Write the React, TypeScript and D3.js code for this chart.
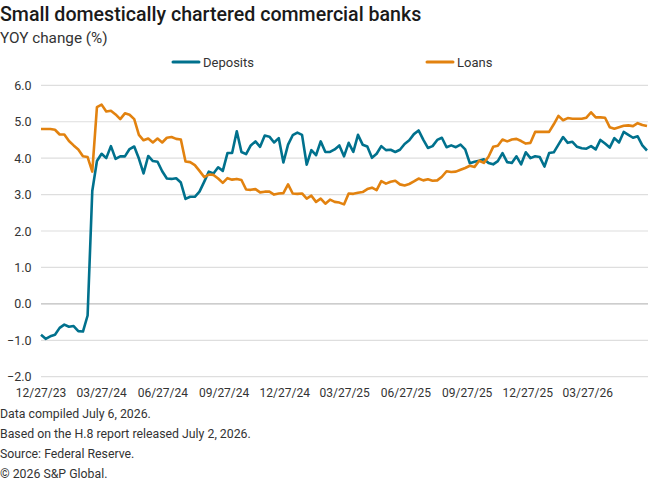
import { useEffect, useRef } from 'react';
import * as d3 from 'd3';

const TITLE = 'Small domestically chartered commercial banks';
const SUBTITLE = 'YOY change (%)';
const FOOTNOTES = [
  'Data compiled July 6, 2026.',
  'Based on the H.8 report released July 2, 2026.',
  'Source: Federal Reserve.',
  '© 2026 S&P Global.',
];

// weekly observations, first week ending 12/27/23
const FIRST_WEEK = '12/27/23';
const WEEK_COUNT = 131;

const X_TICKS = [
  '12/27/23', '03/27/24', '06/27/24', '09/27/24', '12/27/24',
  '03/27/25', '06/27/25', '09/27/25', '12/27/25', '03/27/26',
];
const Y_TICKS = [-2, -1, 0, 1, 2, 3, 4, 5, 6];

const DEPOSITS = [
  -0.85, -0.96, -0.89, -0.85, -0.66, -0.57, -0.63, -0.61, -0.75, -0.76,
  -0.32, 3.10, 3.92, 4.12, 4.00, 4.33, 3.98, 4.05, 4.05, 4.25,
  4.32, 3.99, 3.58, 4.06, 3.92, 3.90, 3.64, 3.44, 3.43, 3.45,
  3.33, 2.88, 2.94, 2.94, 3.08, 3.35, 3.63, 3.58, 3.75, 3.65,
  4.14, 4.14, 4.74, 4.17, 4.11, 4.35, 4.46, 4.31, 4.62, 4.59,
  4.43, 4.55, 3.88, 4.37, 4.63, 4.70, 4.64, 3.82, 4.22, 4.08,
  4.46, 4.17, 4.17, 4.24, 4.35, 4.05, 4.42, 4.17, 4.64, 4.37,
  4.32, 4.01, 4.12, 4.33, 4.22, 4.23, 4.17, 4.23, 4.39, 4.49,
  4.66, 4.76, 4.51, 4.28, 4.33, 4.50, 4.56, 4.30, 4.35, 4.30,
  4.37, 4.24, 3.86, 3.90, 3.93, 3.97, 3.87, 3.83, 3.92, 4.14,
  3.89, 3.87, 4.05, 3.83, 4.16, 4.00, 4.05, 4.03, 3.77, 4.14,
  4.16, 4.37, 4.58, 4.42, 4.45, 4.31, 4.27, 4.26, 4.33, 4.24,
  4.50, 4.40, 4.29, 4.55, 4.43, 4.72, 4.64, 4.56, 4.60, 4.35,
  4.21,
];

const LOANS = [
  4.80, 4.80, 4.80, 4.78, 4.65, 4.65, 4.47, 4.35, 4.24, 4.05,
  4.03, 3.63, 5.40, 5.47, 5.28, 5.30, 5.20, 5.07, 5.23, 5.19,
  5.07, 4.64, 4.49, 4.54, 4.43, 4.54, 4.43, 4.56, 4.58, 4.53,
  4.51, 3.91, 3.89, 3.81, 3.65, 3.48, 3.55, 3.54, 3.44, 3.32,
  3.45, 3.41, 3.43, 3.40, 3.14, 3.13, 3.15, 3.06, 3.08, 3.08,
  3.00, 3.03, 3.04, 3.28, 3.03, 3.02, 3.03, 2.89, 2.97, 2.80,
  2.89, 2.75, 2.86, 2.80, 2.78, 2.73, 3.03, 3.02, 3.05, 3.07,
  3.15, 3.19, 3.12, 3.37, 3.30, 3.35, 3.38, 3.28, 3.25, 3.29,
  3.36, 3.44, 3.39, 3.42, 3.38, 3.39, 3.49, 3.64, 3.62, 3.63,
  3.68, 3.73, 3.79, 3.76, 3.93, 3.87, 4.04, 4.31, 4.34, 4.51,
  4.46, 4.51, 4.53, 4.47, 4.40, 4.42, 4.72, 4.72, 4.72, 4.72,
  4.93, 5.16, 5.04, 5.10, 5.08, 5.08, 5.08, 5.11, 5.26, 5.12,
  5.12, 5.11, 4.85, 4.81, 4.85, 4.89, 4.90, 4.88, 4.96, 4.91,
  4.88,
];

const SERIES = [
  { name: 'Deposits', values: DEPOSITS, color: '#00718d' },
  { name: 'Loans', values: LOANS, color: '#e2820f' },
];

type Point = { date: Date; value: number };

const FONT = 'Roboto, "Liberation Sans", sans-serif';

export default function App() {
  const svgRef = useRef<SVGSVGElement | null>(null);

  useEffect(() => {
    if (!svgRef.current) return;
    const svg = d3.select(svgRef.current);
    svg.selectAll('*').remove();

    const W = 662;
    const H = 480;
    const plot = { left: 41, right: 647, top: 85.3, bottom: 376.7 };

    const parse = d3.timeParse('%m/%d/%y');
    const start = parse(FIRST_WEEK) as Date;
    const weeks = d3.range(WEEK_COUNT).map((i) => d3.timeDay.offset(start, i * 7));

    const x = d3.scaleTime().domain([weeks[0], weeks[weeks.length - 1]]).range([plot.left, plot.right]);
    const y = d3.scaleLinear().domain([-2, 6]).range([plot.bottom, plot.top]);

    svg.attr('width', W).attr('height', H).attr('viewBox', `0 0 ${W} ${H}`).style('font-family', FONT);

    svg.append('rect').attr('width', W).attr('height', H).attr('fill', '#fff');

    // Heading
    svg.append('text')
      .attr('x', 0).attr('y', 21)
      .attr('fill', '#1a1a1a')
      .style('font-size', '19.6px')
      .style('font-weight', 500)
      .text(TITLE);

    svg.append('text')
      .attr('x', 0).attr('y', 43)
      .attr('fill', '#333')
      .style('font-size', '15.3px')
      .text(SUBTITLE);

    // Legend
    const legendX = [173, 427];
    SERIES.forEach((s, i) => {
      const lg = svg.append('g').attr('transform', `translate(${legendX[i]},62)`);
      lg.append('line')
        .attr('x1', 0).attr('x2', 26).attr('y1', 0).attr('y2', 0)
        .attr('stroke', s.color).attr('stroke-width', 3).attr('stroke-linecap', 'round');
      lg.append('text')
        .attr('x', 30).attr('y', 4.5)
        .attr('fill', '#333')
        .style('font-size', '13px')
        .text(s.name);
    });

    // Grid lines
    svg.append('g')
      .selectAll('line')
      .data(Y_TICKS)
      .enter()
      .append('line')
      .attr('x1', plot.left).attr('x2', plot.right + 1)
      .attr('y1', (d) => y(d)).attr('y2', (d) => y(d))
      .attr('stroke', (d) => (d === 0 ? '#bdbdbd' : '#dedede'))
      .attr('stroke-width', 1.2);

    // Y axis labels
    svg.append('g')
      .selectAll('text')
      .data(Y_TICKS)
      .enter()
      .append('text')
      .attr('x', 31.5)
      .attr('y', (d) => y(d) + 4.5)
      .attr('text-anchor', 'end')
      .attr('fill', '#333')
      .style('font-size', '12.5px')
      .text((d) => d3.format('.1f')(d));

    // X axis labels
    svg.append('g')
      .selectAll('text')
      .data(X_TICKS)
      .enter()
      .append('text')
      .attr('x', (d) => x(parse(d) as Date))
      .attr('y', 397)
      .attr('text-anchor', 'middle')
      .attr('fill', '#333')
      .style('font-size', '12px')
      .text((d) => d);

    // Series lines
    const line = d3.line<Point>()
      .x((d) => x(d.date))
      .y((d) => y(d.value));

    SERIES.forEach((s) => {
      const pts: Point[] = s.values.map((v, i) => ({ date: weeks[i], value: v }));
      svg.append('path')
        .datum(pts)
        .attr('fill', 'none')
        .attr('stroke', s.color)
        .attr('stroke-width', 2.6)
        .attr('stroke-linejoin', 'round')
        .attr('d', line);
    });

    // Footnotes
    svg.append('g')
      .selectAll('text')
      .data(FOOTNOTES)
      .enter()
      .append('text')
      .attr('x', 0)
      .attr('y', (_d, i) => 418 + i * 20)
      .attr('fill', '#333')
      .style('font-size', '12.3px')
      .text((d) => d);
  }, []);

  return (
    <div style={{ position: 'absolute', left: 0, top: 0 }}>
      <svg ref={svgRef} style={{ display: 'block' }} />
    </div>
  );
}
